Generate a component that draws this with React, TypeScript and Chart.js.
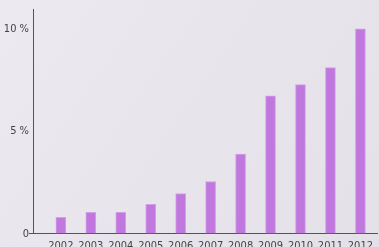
import React, { useEffect, useRef } from "react";
import { Chart, registerables } from "chart.js";

Chart.register(...registerables);

const years = ["2002", "2003", "2004", "2005", "2006", "2007", "2008", "2009", "2010", "2011", "2012"];
const shares = [0.8, 1.05, 1.05, 1.44, 1.97, 2.56, 3.9, 6.75, 7.3, 8.13, 10.03];
const yTicks = [0, 5, 10];

const bgPlugin = {
  id: "bg",
  beforeDraw(chart: any) {
    const { ctx, width, height } = chart;
    const g = ctx.createLinearGradient(0, 0, width, height);
    g.addColorStop(0, "#ece9f0");
    g.addColorStop(1, "#e4e0e8");
    ctx.save();
    ctx.fillStyle = g;
    ctx.fillRect(0, 0, width, height);
    ctx.restore();
  },
};

const fontFamily = "'DejaVu Sans Condensed', 'Liberation Sans Narrow', sans-serif";

export default function App() {
  const ref = useRef<HTMLCanvasElement>(null);
  useEffect(() => {
    const chart = new Chart(ref.current!, {
      type: "bar",
      data: {
        datasets: [
          {
            data: shares.map((v, i) => ({ x: i, y: v })),
            backgroundColor: "#c077de",
            borderColor: "#d3a0e8",
            borderWidth: 1,
            barThickness: 10,
          },
        ],
      },
      plugins: [bgPlugin],
      options: {
        animation: false,
        responsive: false,
        maintainAspectRatio: false,
        layout: { padding: { top: 9, left: 0, right: 0, bottom: 0 } },
        plugins: { legend: { display: false }, tooltip: { enabled: false } },
        scales: {
          x: {
            type: "linear",
            offset: false,
            min: -0.93,
            max: 10.565,
            afterBuildTicks: (s: any) => {
              s.ticks = years.map((_, i) => ({ value: i }));
            },
            grid: { display: false, drawTicks: false },
            border: { display: true, color: "#555", width: 1 },
            ticks: {
              padding: 6,
              color: "#444",
              font: { family: fontFamily, size: 11 },
              callback: (v: any) => years[v] ?? "",
              maxRotation: 0,
              autoSkip: false,
            },
          },
          y: {
            min: 0,
            max: 11,
            afterBuildTicks: (s: any) => {
              s.ticks = yTicks.map((v) => ({ value: v }));
            },
            afterFit: (s: any) => {
              s.width = 33;
            },
            grid: {
              drawOnChartArea: false,
              drawTicks: true,
              tickLength: 4,
              tickColor: (c: any) => (c.tick && c.tick.value === 0 ? "#555" : "rgba(0,0,0,0)"),
            },
            border: { display: true, color: "#555", width: 1 },
            ticks: {
              padding: 0,
              color: "#444",
              font: { family: fontFamily, size: 11 },
              callback: (v: any) => (v === 0 ? "0" : v + " %"),
            },
          },
        },
      },
    });
    return () => chart.destroy();
  }, []);
  return (
    <div style={{ position: "fixed", left: 0, top: 0, width: 379, height: 247, overflow: "hidden" }}>
      <canvas ref={ref} width={379} height={259} style={{ display: "block" }} />
    </div>
  );
}
